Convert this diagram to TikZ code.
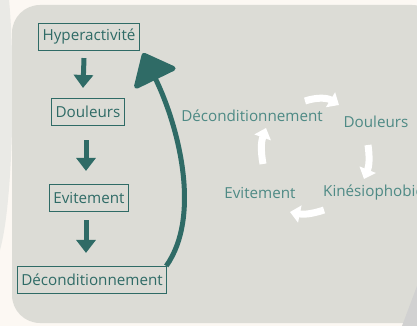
\documentclass[tikz,border=0pt]{standalone}
\usepackage{fontspec}
\setmainfont{Open Sans}
\usetikzlibrary{arrows.meta}
\definecolor{creme}{HTML}{FCF8F3}
\definecolor{panneau}{HTML}{DCDCD6}
\definecolor{sarcelle}{HTML}{2F6B66}
\definecolor{sarcelleclair}{HTML}{4E8A85}
\begin{document}
\begin{tikzpicture}[x=1pt,y=-1pt,
	boite/.style={draw=sarcelle,line width=1.1pt,text=sarcelle,inner xsep=4pt,minimum height=27pt,font=\fontsize{15.2}{17}\selectfont},
	texte/.style={text=sarcelleclair,inner sep=0pt,font=\fontsize{15.2}{17}\selectfont},
	fleche/.style={draw=sarcelle,line width=5pt,-{Triangle[length=13pt,width=19pt]}},
	cycle/.style={draw=white,line width=7pt,-{Triangle[length=10pt,width=17pt]}}]
	
	% background
	\useasboundingbox (0,0) rectangle (417,326);
	\clip (0,0) rectangle (417,326);
	\fill[creme] (0,0) rectangle (417,326);
	\fill[color=white!40!panneau] (0,0) -- (9,0) .. controls (15,60) and (14,200) .. (0,250) -- cycle;
	\fill[panneau, rounded corners=28pt] (12,5) rectangle (440,323);
	\fill[black!18] (417,286) -- (417,326) -- (402,326) -- cycle;
	
	% left chain
	\node[boite] (hyper) at (89,37) {Hyperactivité};
	\node[boite] (doulL) at (88,112) {Douleurs};
	\node[boite] (evitL) at (89,198) {Evitement};
	\node[boite] (decL) at (92,280) {Déconditionnement};
	
	\draw[fleche] ([xshift=-5pt,yshift=-7pt]hyper.south) -- ([xshift=-5pt,yshift=10pt]doulL.north);
	\draw[fleche] ([xshift=-2pt,yshift=-14pt]doulL.south) -- ([xshift=-3pt,yshift=13pt]evitL.north);
	\draw[fleche] ([xshift=-3pt,yshift=-8pt]evitL.south) -- ([xshift=-6pt,yshift=13pt]decL.north);
	
	% return arrow
	\draw[draw=sarcelle,line width=5pt,-{Triangle[length=31pt,width=50pt,round]}]
		([xshift=-1pt]decL.north east) .. controls (202,215) and (178,125) .. ([shift={(3,2)}]hyper.south east);
	
	% right cycle
	\node[texte] (decR) at (252,116) {Déconditionnement};
	\node[texte] (doulR) at (376,122) {Douleurs};
	\node[texte,anchor=west] (kine) at (323,193) {Kinésiophobie};
	\node[texte] (evitR) at (260,193) {Evitement};
	
	\coordinate (c1) at (305,101);
	\coordinate (c2) at (339,105);
	\coordinate (c3) at (368,145);
	\coordinate (c4) at (364,179);
	\coordinate (c5) at (324,210);
	\coordinate (c6) at (290,212);
	\coordinate (c7) at (263,164);
	\coordinate (c8) at (266,128);
	\draw[cycle] (c1) to[bend left=25] (c2);
	\draw[cycle] (c3) to[bend left=15] (c4);
	\draw[cycle] (c5) to[bend left=15] (c6);
	\draw[cycle] (c7) to[bend left=15] (c8);
	
\end{tikzpicture}
\end{document}
